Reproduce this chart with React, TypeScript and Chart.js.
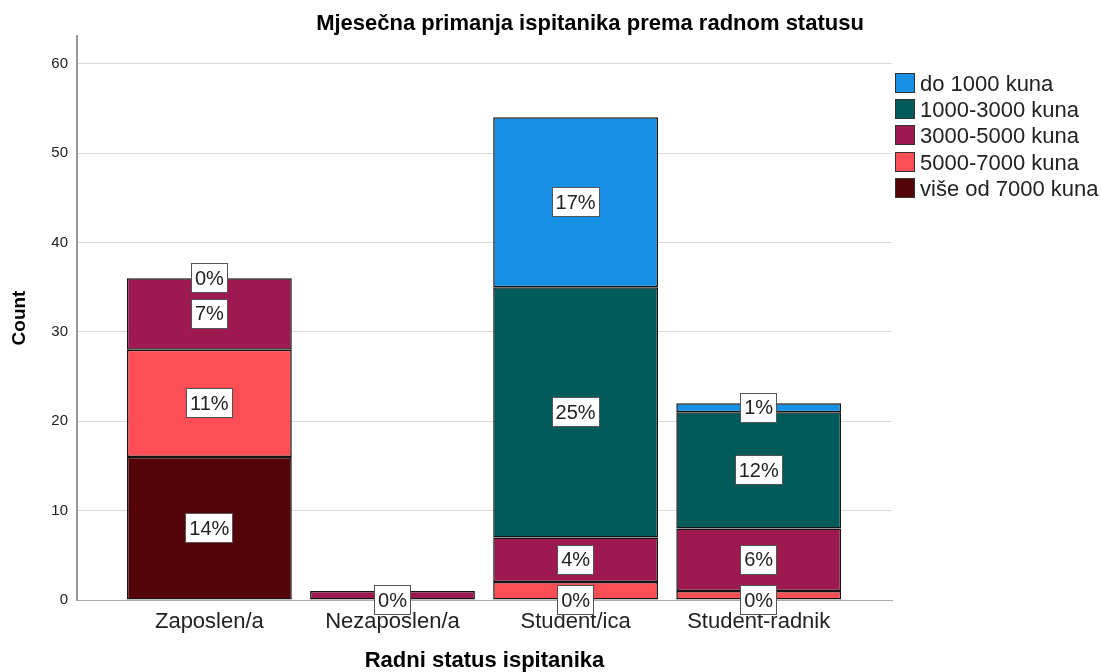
import React, { useEffect, useRef } from 'react';
import { Chart, registerables } from 'chart.js';

Chart.register(...registerables);

const FONT = '"Liberation Sans", Arial, Helvetica, sans-serif';

const chartTitle = 'Mjesečna primanja ispitanika prema radnom statusu';
const xAxisTitle = 'Radni status ispitanika';
const yAxisTitle = 'Count';
const categories = ['Zaposlen/a', 'Nezaposlen/a', 'Student/ica', 'Student-radnik'];
const yTicks = [0, 10, 20, 30, 40, 50, 60];
const yMax = 63.1;

// legend order (top to bottom)
const seriesNames = ['do 1000 kuna', '1000-3000 kuna', '3000-5000 kuna', '5000-7000 kuna', 'više od 7000 kuna'];
const seriesColors = ['#1590e5', '#005a5a', '#9d1950', '#fd4e55', '#55050a'];

// counts per category
const do1000 = [0, 0, 19, 1];
const k1000to3000 = [0, 0, 28, 13];
const k3000to5000 = [8, 1, 5, 7];
const k5000to7000 = [12, 0, 2, 1];
const over7000 = [16, 0, 0, 0];

// percentage labels shown on segments (null = hidden)
const do1000Pct = ['0%', null, '17%', '1%'];
const k1000to3000Pct = [null, null, '25%', '12%'];
const k3000to5000Pct = ['7%', null, '4%', '6%'];
const k5000to7000Pct = ['11%', null, null, null];
const over7000Pct = ['14%', '0%', '0%', '0%'];

const seriesValues = [do1000, k1000to3000, k3000to5000, k5000to7000, over7000];
const seriesPct = [do1000Pct, k1000to3000Pct, k3000to5000Pct, k5000to7000Pct, over7000Pct];

const segLabelPlugin = {
  id: 'segLabels',
  afterDatasetsDraw(chart: any) {
    const ctx = chart.ctx;
    ctx.save();
    ctx.font = `20px ${FONT}`;
    ctx.textAlign = 'center';
    ctx.textBaseline = 'middle';
    chart.data.datasets.forEach((ds: any, di: number) => {
      const meta = chart.getDatasetMeta(di);
      const labels = ds.pctLabels as (string | null)[];
      meta.data.forEach((el: any, i: number) => {
        const t = labels[i];
        if (!t) return;
        const { x, y, base } = el.getProps(['x', 'y', 'base'], true);
        const cy = (y + base) / 2;
        const w = Math.round(ctx.measureText(t).width + 8);
        const h = 30;
        const lx = Math.round(x - w / 2);
        const ty = Math.round(cy - h / 2);
        ctx.fillStyle = '#ffffff';
        ctx.fillRect(lx, ty, w, h);
        ctx.strokeStyle = '#555555';
        ctx.lineWidth = 1;
        ctx.strokeRect(lx + 0.5, ty + 0.5, w - 1, h - 1);
        ctx.fillStyle = '#222222';
        ctx.fillText(t, x, cy + 1);
      });
    });
    ctx.restore();
  },
};

const titleLegendPlugin = {
  id: 'titleLegend',
  afterDraw(chart: any) {
    const ctx = chart.ctx;
    ctx.save();
    // title
    ctx.font = `bold 22px ${FONT}`;
    ctx.fillStyle = '#000000';
    ctx.textAlign = 'center';
    ctx.textBaseline = 'alphabetic';
    ctx.fillText(chartTitle, 590, 30);
    // legend
    ctx.font = `22px ${FONT}`;
    ctx.textAlign = 'left';
    ctx.textBaseline = 'middle';
    seriesNames.forEach((name, i) => {
      const cy = 83 + i * 26.2;
      const bx = 895;
      const by = Math.round(cy - 10);
      ctx.fillStyle = seriesColors[i];
      ctx.fillRect(bx, by, 20, 20);
      ctx.strokeStyle = '#333333';
      ctx.lineWidth = 1;
      ctx.strokeRect(bx + 0.5, by + 0.5, 19, 19);
      ctx.fillStyle = '#222222';
      ctx.fillText(name, 920, cy + 2);
    });
    ctx.restore();
  },
};

export default function App() {
  const canvasRef = useRef<HTMLCanvasElement | null>(null);

  useEffect(() => {
    if (!canvasRef.current) return;
    Chart.defaults.font.family = FONT;
    // datasets stacked from bottom to top: reverse of legend order
    const order = [4, 3, 2, 1, 0];
    const datasets = order.map((si) => ({
      label: seriesNames[si],
      data: seriesValues[si].map((v, i) => ({ x: i, y: v })),
      backgroundColor: seriesColors[si],
      borderColor: '#141414',
      borderWidth: 1.5,
      borderSkipped: false,
      inflateAmount: 0,
      categoryPercentage: 1,
      barPercentage: 0.9,
      pctLabels: seriesPct[si],
    }));

    const chart = new Chart(canvasRef.current, {
      type: 'bar',
      data: { datasets: datasets as any },
      options: {
        responsive: false,
        animation: false,
        events: [],
        layout: { padding: { top: 36, right: 209, left: 0, bottom: 0 } },
        plugins: {
          legend: { display: false },
          title: { display: false },
          tooltip: { enabled: false },
        },
        scales: {
          x: {
            type: 'linear',
            stacked: true,
            offset: false,
            min: -0.723,
            max: 3.728,
            afterBuildTicks: (s: any) => {
              s.ticks = categories.map((_, i) => ({ value: i }));
            },
            afterFit: (s: any) => {
              s.height = 72;
            },
            grid: { display: false, drawTicks: false },
            border: { display: true, color: '#aaaaaa', width: 1 },
            ticks: {
              autoSkip: false,
              maxRotation: 0,
              padding: 9,
              color: '#222222',
              font: { family: FONT, size: 22 },
              callback: (v: any) => categories[v as number] ?? '',
            },
            title: {
              display: true,
              text: xAxisTitle,
              color: '#000000',
              font: { family: FONT, size: 22, weight: 'bold', lineHeight: 1 },
              padding: { top: 0, bottom: 0 },
            },
          },
          y: {
            stacked: true,
            min: 0,
            max: yMax,
            afterBuildTicks: (s: any) => {
              s.ticks = yTicks.map((v) => ({ value: v }));
            },
            afterFit: (s: any) => {
              s.width = 77;
            },
            grid: { color: '#d9d9d9', lineWidth: 1, drawTicks: false },
            border: { display: true, color: '#999999', width: 2 },
            ticks: {
              padding: 9,
              color: '#222222',
              font: { family: FONT, size: 15 },
            },
            title: {
              display: true,
              text: yAxisTitle,
              color: '#000000',
              font: { family: FONT, size: 19, weight: 'bold' },
              padding: { top: 8, bottom: 0 },
            },
          },
        },
      } as any,
      plugins: [segLabelPlugin, titleLegendPlugin],
    });
    return () => chart.destroy();
  }, []);

  return (
    <div style={{ position: 'fixed', left: 0, top: 0, width: 1101, height: 672, background: '#ffffff' }}>
      <canvas ref={canvasRef} width={1101} height={672} style={{ display: 'block' }} />
    </div>
  );
}
